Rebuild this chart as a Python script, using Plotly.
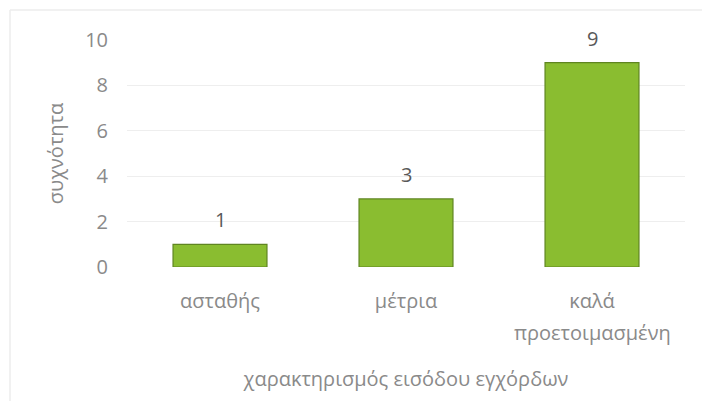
import plotly.graph_objects as go

# Survey data: how the string section entrance was characterised
categories = ["ασταθής", "μέτρια", "καλά προετοιμασμένη"]
tick_first_line = ["ασταθής", "μέτρια", "καλά"]
tick_second_line = ["", "", "προετοιμασμένη"]
frequency = [1, 3, 9]
y_ticks = [0, 2, 4, 6, 8, 10]

FONT = "Open Sans"
TICK_GREY = "#8a8a8a"
LABEL_GREY = "#595959"

W, H = 702, 401
ML, MR, MT, MB = 127, 17, 40, 134

fig = go.Figure()
fig.add_trace(go.Bar(
    x=categories,
    y=frequency,
    width=0.505,
    marker=dict(color="#8abd30", line=dict(color="#5f8520", width=1.2)),
    hoverinfo="skip",
))

# value labels above each bar
for c, v in zip(categories, frequency):
    fig.add_annotation(x=c, y=v, text=str(v), showarrow=False,
                       yanchor="bottom", yshift=9,
                       font=dict(family=FONT, size=20, color=LABEL_GREY))

# second line of the long category label
for c, t in zip(categories, tick_second_line):
    if t:
        fig.add_annotation(x=c, y=0, yref="y", text=t, showarrow=False,
                           yanchor="middle", yshift=-65,
                           font=dict(family=FONT, size=20, color=TICK_GREY))

# faint chart-area frame (top and left edges)
pw, ph = W - ML - MR, H - MT - MB
fx0 = (10 - ML) / pw
fy1 = (H - MB - 10) / ph
fig.add_shape(type="line", xref="paper", yref="paper", x0=fx0, x1=(W - ML + 5) / pw,
              y0=fy1, y1=fy1, line=dict(color="#ededed", width=1.5))
fig.add_shape(type="line", xref="paper", yref="paper", x0=fx0, x1=fx0,
              y0=fy1, y1=-MB / ph - 0.05, line=dict(color="#ededed", width=1.5))

fig.update_layout(
    width=W, height=H,
    margin=dict(l=ML, r=MR, t=MT, b=MB),
    paper_bgcolor="white", plot_bgcolor="white",
    showlegend=False,
    font=dict(family=FONT, color=TICK_GREY),
    xaxis=dict(
        type="category",
        tickvals=categories, ticktext=tick_first_line,
        tickfont=dict(family=FONT, size=20, color=TICK_GREY),
        ticks="", ticklabelstandoff=20,
        showgrid=False, showline=False, zeroline=False,
        title=dict(text="χαρακτηρισμός εισόδου εγχόρδων", standoff=58,
                   font=dict(family=FONT, size=20, color=TICK_GREY)),
    ),
    yaxis=dict(
        range=[0, 10], tickvals=y_ticks,
        tickfont=dict(family=FONT, size=20, color=TICK_GREY),
        ticks="", ticklabelstandoff=18,
        showgrid=True, gridcolor="#eeeeee", gridwidth=1.2,
        zeroline=False, showline=False,
        title=dict(text="συχνότητα", standoff=16,
                   font=dict(family=FONT, size=20, color=TICK_GREY)),
    ),
)

fig.write_html("out.html")
